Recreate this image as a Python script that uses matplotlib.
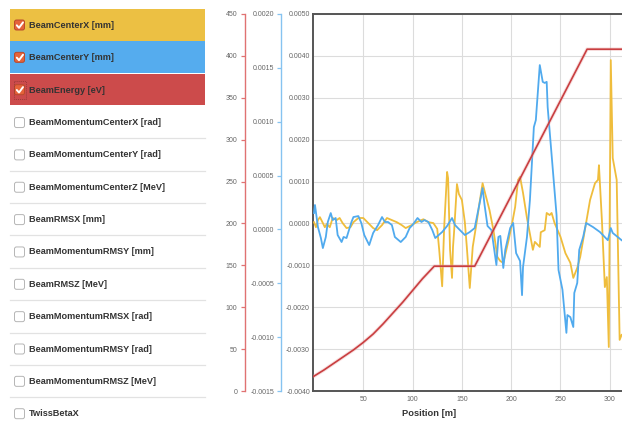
import matplotlib
matplotlib.use('Agg')
import matplotlib.pyplot as plt
from matplotlib.patches import Rectangle, FancyBboxPatch
from matplotlib.ticker import FixedLocator, FuncFormatter

plt.rcParams['font.family'] = ['Liberation Sans', 'DejaVu Sans']

# ---------------- data ----------------
series_names = [
    "BeamCenterX [mm]", "BeamCenterY [mm]", "BeamEnergy [eV]",
    "BeamMomentumCenterX [rad]", "BeamMomentumCenterY [rad]",
    "BeamMomentumCenterZ [MeV]", "BeamRMSX [mm]", "BeamMomentumRMSY [mm]",
    "BeamRMSZ [MeV]", "BeamMomentumRMSX [rad]", "BeamMomentumRMSY [rad]",
    "BeamMomentumRMSZ [MeV]", "TwissBetaX",
]
checked = [True, True, True] + [False] * 10
row_colors = ["#ecc043", "#55acee", "#cc4b4b"] + [None] * 10

pos_center_x = [0, 2, 4, 6, 9, 11, 13, 16, 19, 23, 26, 29, 33, 37, 40, 45, 50, 55, 60, 64,
                69, 74, 79, 84, 89, 93, 99, 104, 111, 116, 121, 125, 127, 130, 132, 135, 136,
                138, 140, 141, 142, 145, 147, 150, 153, 155, 158, 161, 165, 168, 171, 174,
                178, 182, 186, 189, 192, 197, 201, 204, 207, 209, 212, 216, 222, 224, 229,
                230, 234, 236, 239, 241, 244, 250, 255, 260, 263, 267, 270, 280, 285, 288,
                289, 292, 295, 297, 299, 301, 303, 307, 310, 312]
center_x = [0.3e-4, -0.9e-4, 0.8e-4, 1.5e-4, 0.1e-4, -0.9e-4, -0.1e-4, -0.9e-4, 1.3e-4, 0.8e-4,
            1.3e-4, 0.1e-4, -1.1e-4, -0.9e-4, 0.3e-4, 1.3e-4, 1.3e-4, 0.1e-4, -1.1e-4, -1.6e-4,
            -0.4e-4, 1.3e-4, 0.8e-4, 0.3e-4, -0.4e-4, -1.1e-4, -0.4e-4, 0.3e-4, 1.0e-4, 0.3e-4,
            0.1e-4, -1.3e-4, -6.3e-4, -15.0e-4, -1.1e-4, 12.3e-4, 10.8e-4, -6.3e-4, -13.0e-4, -5.6e-4,
            -2.3e-4, 9.4e-4, 7.0e-4, 5.6e-4, 0.3e-4, -5.6e-4, -15.4e-4, -5.6e-4, 0.3e-4, 5.1e-4,
            9.6e-4, 6.8e-4, 3.2e-4, -1.6e-4, -8.0e-4, -9.0e-4, -9.4e-4, -4.4e-4, 0.1e-4, 3.9e-4,
            10.4e-4, 11.1e-4, 7.3e-4, 1.3e-4, -6.3e-4, -4.4e-4, -5.6e-4, -2.1e-4, -1.6e-4, 2.5e-4,
            2.0e-4, 2.5e-4, 0.1e-4, -3.2e-4, -7.1e-4, -9.4e-4, -13.0e-4, -10.6e-4, -8.0e-4, 5.6e-4,
            9.6e-4, 10.4e-4, 13.9e-4, 0.8e-4, -15.2e-4, -12.8e-4, -29.5e-4, 39.0e-4, 15.6e-4, 10.4e-4,
            -27.8e-4, -26.6e-4]

pos_center_y = [0, 1, 4, 7, 9, 12, 14, 17, 19, 22, 24, 28, 30, 33, 38, 40, 45, 48, 51, 56,
                60, 65, 69, 72, 75, 79, 82, 88, 93, 97, 100, 105, 109, 112, 116, 120, 123, 130,
                135, 140, 143, 148, 153, 158, 163, 166, 171, 173, 176, 180, 185, 187, 189, 192,
                194, 199, 202, 205, 209, 211, 212, 216, 219, 223, 225, 229, 232, 234, 236, 237,
                242, 246, 248, 252, 256, 257, 260, 263, 264, 267, 269, 273, 276, 283, 290, 298,
                301, 303, 308, 312]
center_y = [1.52e-4, 2.27e-4, 0.22e-4, -0.80e-4, -1.73e-4, -0.70e-4, 0.69e-4, 1.52e-4, 0.87e-4, 1.06e-4,
            -0.52e-4, -1.17e-4, -0.70e-4, -0.80e-4, 0.69e-4, 1.15e-4, 1.24e-4, 0.60e-4, -0.52e-4, -1.45e-4,
            -0.33e-4, 0.41e-4, 1.15e-4, 0.69e-4, 0.69e-4, 0.41e-4, -0.70e-4, -1.17e-4, -0.70e-4, 0.13e-4,
            0.41e-4, 1.06e-4, 0.69e-4, 0.87e-4, 0.69e-4, -0.06e-4, -0.80e-4, -0.24e-4, 0.32e-4, 1.06e-4,
            0.41e-4, -0.06e-4, -0.52e-4, -0.24e-4, 0.13e-4, 1.52e-4, 3.84e-4, 2.27e-4, 0.32e-4, -0.06e-4,
            -3.30e-4, -0.70e-4, -0.60e-4, -3.58e-4, -1.90e-4, 0.13e-4, 0.60e-4, -2.20e-4, -2.93e-4, -6.10e-4,
            -3.50e-4, -0.70e-4, 2.73e-4, 9.50e-4, 10.15e-4, 15.26e-4, 13.70e-4, 13.60e-4, 13.70e-4, 11.36e-4,
            5.80e-4, 1.34e-4, -3.77e-4, -5.60e-4, -9.60e-4, -7.95e-4, -8.14e-4, -9.06e-4, -5.90e-4, -4.97e-4,
            -1.90e-4, -0.70e-4, 0.60e-4, 0.22e-4, -0.24e-4, -1.00e-4, 0.13e-4, -0.33e-4, -0.70e-4, -1.00e-4]

pos_energy = [-1, 10, 20, 30, 40, 50, 60, 70, 80, 90, 100, 110, 122, 163, 277, 313]
energy = [17, 25, 33, 41, 49, 58, 68, 80, 93, 106, 120, 134, 149, 149, 408, 408]

x_ticks = [50, 100, 150, 200, 250, 300]
main_ticks = [-0.004, -0.003, -0.002, -0.001, 0.0, 0.001, 0.002, 0.003, 0.004, 0.005]
blue_ticks = [-0.0015, -0.001, -0.0005, 0.0, 0.0005, 0.001, 0.0015, 0.002]
red_ticks = [0, 50, 100, 150, 200, 250, 300, 350, 400, 450]

# ---------------- figure ----------------
W, H = 622, 422
fig = plt.figure(figsize=(W / 100, H / 100), dpi=100)
fig.patch.set_facecolor("white")

# left panel drawn in pixel coordinates
panel = fig.add_axes([0, 0, 1, 1])
panel.set_xlim(0, W)
panel.set_ylim(H, 0)
panel.axis("off")

row_top0, row_h = 9.0, 32.35
for i, name in enumerate(series_names):
    top = row_top0 + row_h * i
    cy = top + 16
    if row_colors[i]:
        panel.add_patch(Rectangle((10, top), 195, row_h - 0.8, facecolor=row_colors[i],
                                  edgecolor="none"))
    elif i < len(series_names) - 1:
        panel.plot([10, 205], [top + row_h, top + row_h], color="#e2e2e2", lw=0.9)
    if checked[i]:
        panel.add_patch(FancyBboxPatch((14.5, cy - 5), 10, 10,
                                       boxstyle="round,pad=0,rounding_size=2",
                                       facecolor="#e5633a", edgecolor="#b94a2c", lw=0.7))
        panel.plot([16.8, 19.0, 23.0], [cy + 0.3, cy + 2.8, cy - 2.6], color="white",
                   lw=1.4, solid_capstyle="round", solid_joinstyle="round")
    else:
        panel.add_patch(FancyBboxPatch((14.5, cy - 4.5), 10, 10,
                                       boxstyle="round,pad=0,rounding_size=2",
                                       facecolor="white", edgecolor="#b5b5b5", lw=0.7))
    if name == "BeamEnergy [eV]":
        panel.add_patch(Rectangle((13.5, cy - 8.5), 12, 18, facecolor="none",
                                  edgecolor="#8c3434", lw=0.5, ls=(0, (1.5, 1.5))))
    panel.text(29, cy + 0.5, name, fontsize=6.6, fontweight="bold", color="#333333",
               ha="left", va="center")

# main chart
L, B, T = 313, 391, 14
ax = fig.add_axes([L / W, (H - B) / H, (W - L) / W, (B - T) / H])
ax.set_facecolor("white")
xmin = -1
xmax = xmin + (W - L) / 0.986
ax.set_xlim(xmin, xmax)
ax.set_ylim(-0.004, 0.005)
ax.yaxis.set_major_locator(FixedLocator(main_ticks))
ax.xaxis.set_major_locator(FixedLocator(x_ticks))
ax.yaxis.set_major_formatter(FuncFormatter(lambda v, p: f"{v:.4f}"))
ax.xaxis.set_major_formatter(FuncFormatter(lambda v, p: f"{v:.0f}"))
ax.grid(True, color="#dcdcdc", lw=0.8)
ax.set_axisbelow(True)
ax.tick_params(axis="y", length=0, pad=2.2, labelsize=5, labelcolor="#666666")
ax.tick_params(axis="x", length=0, pad=3.5, labelsize=5, labelcolor="#666666")
for s in ["left", "top", "bottom"]:
    ax.spines[s].set_color("#555555")
    ax.spines[s].set_linewidth(1.4)
ax.spines["right"].set_visible(False)
ax.plot(pos_center_x, center_x, color="#efbd3c", lw=1.3, zorder=3, clip_on=True)

# blue axis
axb = ax.twinx()
axb.set_ylim(-0.0015, 0.002)
axb.yaxis.tick_left()
axb.spines["left"].set_position(("axes", (281 - L) / (W - L)))
axb.spines["left"].set_visible(True)
axb.spines["left"].set_color("#86c3f0")
axb.spines["left"].set_linewidth(1.0)
for s in ["right", "top", "bottom"]:
    axb.spines[s].set_visible(False)
axb.yaxis.set_major_locator(FixedLocator(blue_ticks))
axb.yaxis.set_major_formatter(FuncFormatter(lambda v, p: f"{v:.4f}"))
axb.tick_params(axis="y", length=3, width=0.9, color="#86c3f0", pad=2.0, labelsize=5,
                labelcolor="#666666")
axb.plot(pos_center_y, center_y, color="#50aaee", lw=1.3, zorder=3)

# red axis
axr = ax.twinx()
axr.set_ylim(0, 450)
axr.yaxis.tick_left()
axr.spines["left"].set_position(("axes", (245 - L) / (W - L)))
axr.spines["left"].set_visible(True)
axr.spines["left"].set_color("#e07272")
axr.spines["left"].set_linewidth(1.0)
for s in ["right", "top", "bottom"]:
    axr.spines[s].set_visible(False)
axr.yaxis.set_major_locator(FixedLocator(red_ticks))
axr.tick_params(axis="y", length=3, width=0.9, color="#e07272", pad=2.5, labelsize=5,
                labelcolor="#666666")
axr.plot(pos_energy, energy, color="#eaa4a4", lw=2.6, alpha=0.35, zorder=2,
         solid_capstyle="butt")
axr.plot(pos_energy, energy, color="#c93e40", lw=1.2, zorder=3)

fig.text((402 + 456) / 2 / W, 1 - 413 / H, "Position [m]", fontsize=6.7, fontweight="bold",
         color="#333333", ha="center", va="center")

fig.savefig("out.png", dpi=100, facecolor="white")
